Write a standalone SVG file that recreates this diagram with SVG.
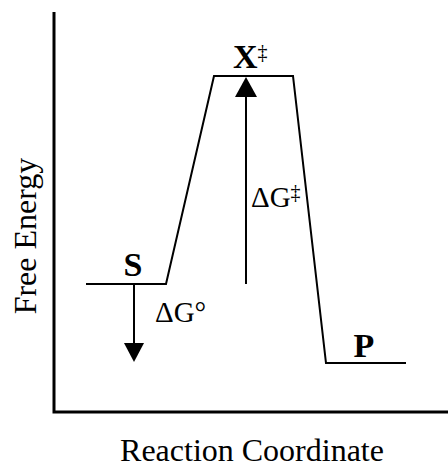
<svg xmlns="http://www.w3.org/2000/svg" width="448" height="467" viewBox="0 0 448 467">
<style>
.ax{stroke:#000;stroke-width:3;fill:none}
.ln{stroke:#000;stroke-width:2;fill:none;stroke-linejoin:miter}
text{font-family:'Liberation Serif','Times New Roman',serif;fill:#000}
.lbl{font-weight:bold;font-size:34px}
.txt{font-size:32px}
.dg{font-size:29px}
.sup{font-weight:normal;font-size:20px}
.head{fill:#000;stroke:none}
</style>
<rect width="448" height="467" fill="#fff"/>
<g id="axes">
<polyline class="ax" points="54,12 54,412 448,412"/>
<text class="txt" x="252" y="461" text-anchor="middle">Reaction Coordinate</text>
<text class="txt" transform="translate(36,236) rotate(-90)" text-anchor="middle">Free Energy</text>
</g>
<g id="profile">
<polyline class="ln" points="86,284 166,284 214,76 293,76 326,363 406,363"/>
</g>
<g id="S"><text class="lbl" x="133" y="276" text-anchor="middle">S</text></g>
<g id="X"><text class="lbl" x="233" y="68">X<tspan class="sup" dy="-9">‡</tspan></text></g>
<g id="P"><text class="lbl" x="364" y="357" text-anchor="middle">P</text></g>
<g id="connectors">
<line class="ln" x1="134" y1="284" x2="134" y2="345"/>
<polygon class="head" points="124,343 144,343 134,362"/>
<line class="ln" x1="246" y1="284" x2="246" y2="95"/>
<polygon class="head" points="235,97 257,97 246,77"/>
</g>
<g id="labels">
<text class="dg" x="155" y="322">ΔG°</text>
<text class="dg" x="251" y="207">ΔG<tspan class="sup" dy="-8">‡</tspan></text>
</g>
</svg>
